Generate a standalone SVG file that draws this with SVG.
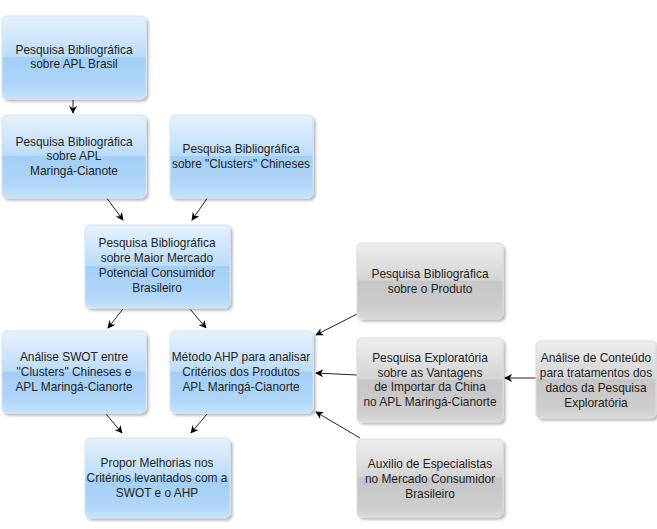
<svg xmlns="http://www.w3.org/2000/svg" width="657" height="529" viewBox="0 0 657 529">
<defs>
<linearGradient id="gb" x1="0" y1="0" x2="0" y2="1">
<stop offset="0" stop-color="#e6f2fd"/>
<stop offset="0.49" stop-color="#bcdcf9"/>
<stop offset="0.5" stop-color="#a3cef6"/>
<stop offset="0.85" stop-color="#b0d6f8"/>
<stop offset="1" stop-color="#c9e4fb"/>
</linearGradient>
<linearGradient id="gg" x1="0" y1="0" x2="0" y2="1">
<stop offset="0" stop-color="#eeeeee"/>
<stop offset="0.49" stop-color="#d4d4d4"/>
<stop offset="0.5" stop-color="#c6c6c6"/>
<stop offset="0.85" stop-color="#cccccc"/>
<stop offset="1" stop-color="#dadada"/>
</linearGradient>
<filter id="sh" x="-10%" y="-10%" width="125%" height="130%">
<feDropShadow dx="2" dy="2" stdDeviation="1.5" flood-color="#000" flood-opacity="0.3"/>
</filter>
<marker id="ah" viewBox="0 0 10 10" refX="9" refY="5" markerWidth="8" markerHeight="8" markerUnits="userSpaceOnUse" orient="auto">
<path d="M0,0 L10,5 L0,10 L3,5 Z" fill="#000"/>
</marker>
</defs>
<style>
.b{fill:url(#gb);stroke:#cfe5f9;stroke-width:1;filter:url(#sh)}
.g{fill:url(#gg);stroke:#dcdcdc;stroke-width:1;filter:url(#sh)}
text{font-family:"Liberation Sans",Arial,sans-serif;font-size:11.9px;fill:#1e1e1e;text-anchor:middle}
.c line{stroke:#222;stroke-width:1;marker-end:url(#ah)}
</style>
<rect width="657" height="529" fill="#fff"/>
<g class="c" id="connectors">
<line x1="73" y1="100" x2="73" y2="113"/>
<line x1="106" y1="197" x2="123" y2="220"/>
<line x1="208" y1="197" x2="192" y2="220"/>
<line x1="123" y1="309" x2="108" y2="328"/>
<line x1="190" y1="309" x2="206" y2="328"/>
<line x1="106" y1="414" x2="122" y2="433"/>
<line x1="207" y1="414" x2="191" y2="433"/>
<line x1="357" y1="314" x2="316" y2="335"/>
<line x1="357" y1="375" x2="316" y2="373"/>
<line x1="360" y1="438" x2="316" y2="412"/>
<line x1="536" y1="378" x2="505" y2="378"/>
</g>
<g id="n1"><rect class="b" x="2" y="16" width="144" height="83" rx="5"/>
<text x="74" y="54">Pesquisa Bibliográfica</text><text x="74" y="68">sobre APL Brasil</text></g>
<g id="n2"><rect class="b" x="2" y="115" width="144" height="83" rx="5"/>
<text x="74" y="146">Pesquisa Bibliográfica</text><text x="74" y="160">sobre APL</text><text x="74" y="175">Maringá-Cianote</text></g>
<g id="n3"><rect class="b" x="170" y="115" width="143" height="83" rx="5"/>
<text x="241" y="153">Pesquisa Bibliográfica</text><text x="241" y="168">sobre "Clusters" Chineses</text></g>
<g id="n4"><rect class="b" x="85" y="225" width="145" height="83" rx="5"/>
<text x="157" y="247">Pesquisa Bibliográfica</text><text x="157" y="262">sobre Maior Mercado</text><text x="157" y="277">Potencial Consumidor</text><text x="157" y="292">Brasileiro</text></g>
<g id="n5"><rect class="b" x="2" y="331" width="144" height="82" rx="5"/>
<text x="74" y="361">Análise SWOT entre</text><text x="74" y="376">"Clusters" Chineses e</text><text x="74" y="391">APL Maringá-Cianorte</text></g>
<g id="n6"><rect class="b" x="170" y="331" width="143" height="82" rx="5"/>
<text x="241" y="361">Método AHP para analisar</text><text x="241" y="376">Critérios dos Produtos</text><text x="241" y="391">APL Maringá-Cianorte</text></g>
<g id="n7"><rect class="b" x="85" y="438" width="145" height="80" rx="5"/>
<text x="157" y="467">Propor Melhorias nos</text><text x="157" y="482">Critérios levantados com a</text><text x="157" y="497">SWOT e o AHP</text></g>
<g id="n8"><rect class="g" x="357" y="243" width="146" height="76" rx="5"/>
<text x="430" y="278">Pesquisa Bibliográfica</text><text x="430" y="293">sobre o Produto</text></g>
<g id="n9"><rect class="g" x="357" y="338" width="146" height="84" rx="5"/>
<text x="430" y="362">Pesquisa Exploratória</text><text x="430" y="377">sobre as Vantagens</text><text x="430" y="391">de Importar da China</text><text x="430" y="406">no APL Maringá-Cianorte</text></g>
<g id="n10"><rect class="g" x="536" y="341" width="120" height="77" rx="5"/>
<text x="596" y="362">Análise de Conteúdo</text><text x="596" y="377">para tratamentos dos</text><text x="596" y="392">dados da Pesquisa</text><text x="596" y="407">Exploratória</text></g>
<g id="n11"><rect class="g" x="357" y="439" width="146" height="78" rx="5"/>
<text x="430" y="468">Auxilio de Especialistas</text><text x="430" y="483">no Mercado Consumidor</text><text x="430" y="498">Brasileiro</text></g>
</svg>
